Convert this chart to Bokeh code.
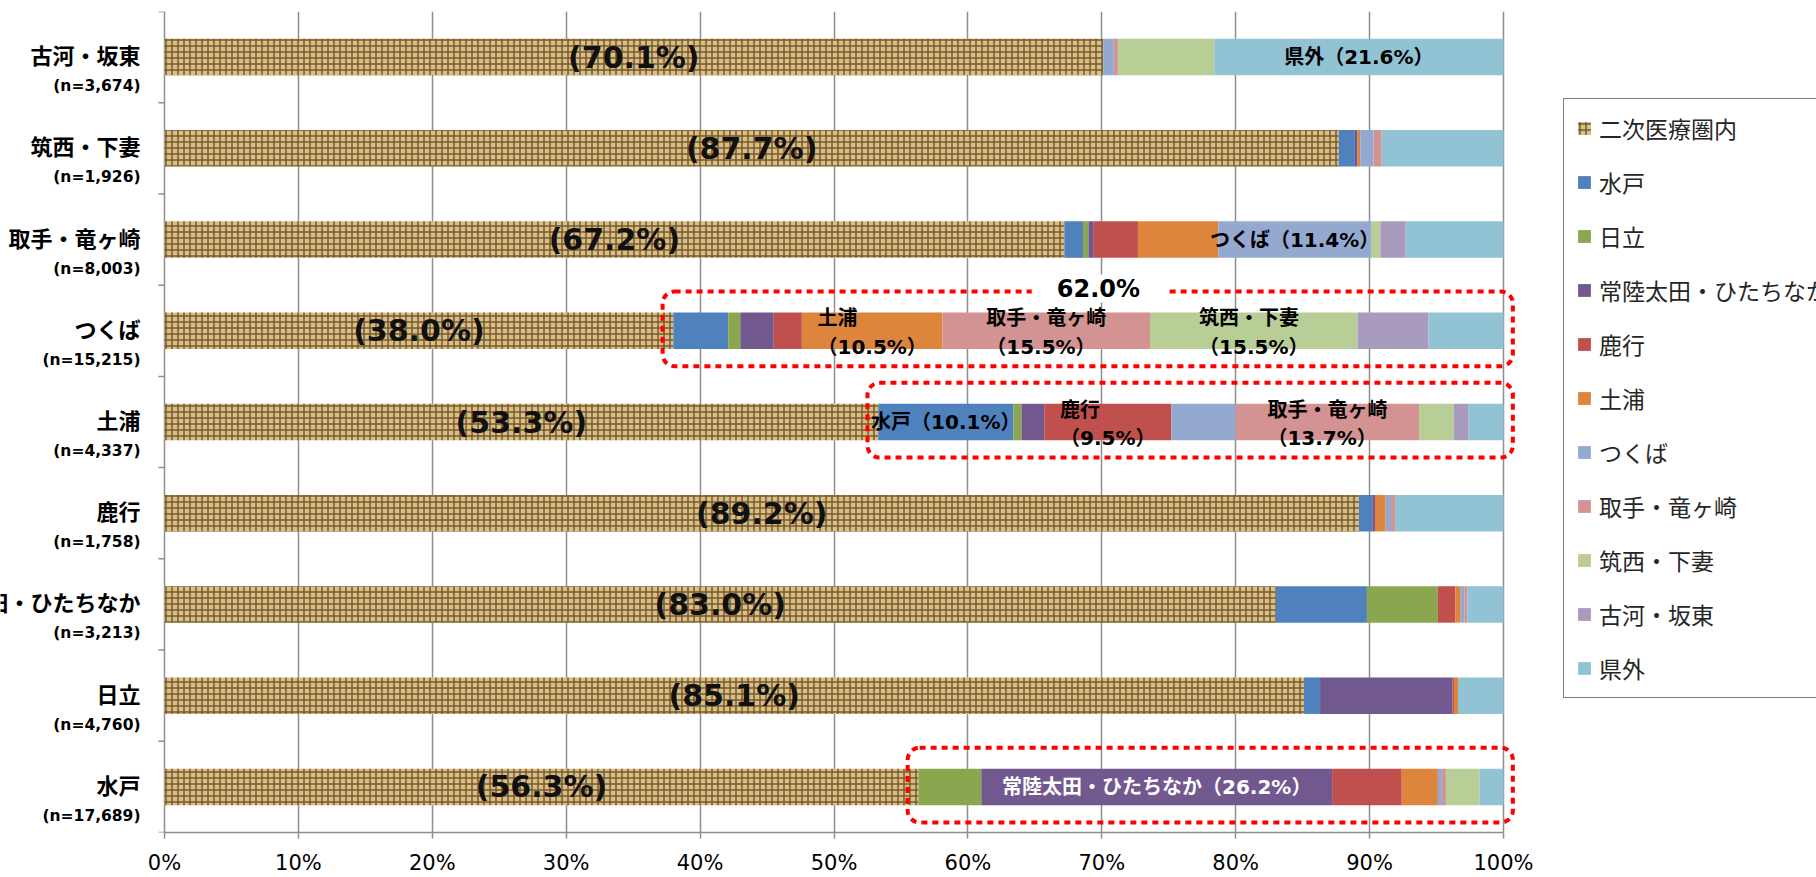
import numpy as np
from bokeh.plotting import figure
from bokeh.models import (ColumnDataSource, Range1d, FixedTicker, LabelSet, Label,
                          BoxAnnotation, Legend, LegendItem)
from bokeh.core.properties import value
from bokeh.embed import file_html
from bokeh.resources import INLINE

# ---------------- data ----------------
categories = ["古河・坂東", "筑西・下妻", "取手・竜ヶ崎", "つくば", "土浦",
              "鹿行", "常陸太田・ひたちなか", "日立", "水戸"]
n_counts = ["3,674", "1,926", "8,003", "15,215", "4,337",
            "1,758", "3,213", "4,760", "17,689"]
series = ["二次医療圏内", "水戸", "日立", "常陸太田・ひたちなか", "鹿行", "土浦",
          "つくば", "取手・竜ヶ崎", "筑西・下妻", "古河・坂東", "県外"]

within     = [70.1, 87.7, 67.2, 38.0, 53.3, 89.2, 83.0, 85.1, 56.3]
mito       = [0.0, 1.2, 1.4, 4.1, 10.1, 1.0, 6.8, 1.2, 0.0]
hitachi    = [0.0, 0.0, 0.4, 0.9, 0.6, 0.0, 5.3, 0.0, 4.7]
hitachiota = [0.0, 0.2, 0.4, 2.5, 1.7, 0.2, 0.0, 9.9, 26.2]
rokko      = [0.0, 0.0, 3.3, 2.1, 9.5, 0.0, 1.3, 0.1, 5.2]
tsuchiura  = [0.0, 0.2, 6.0, 10.5, 0.0, 0.8, 0.4, 0.3, 2.7]
tsukuba    = [0.8, 1.0, 11.4, 0.0, 4.8, 0.4, 0.3, 0.0, 0.3]
toride     = [0.3, 0.6, 0.0, 15.5, 13.7, 0.3, 0.2, 0.0, 0.3]
chikusei   = [7.2, 0.0, 0.7, 15.5, 2.6, 0.0, 0.0, 0.0, 2.5]
koga       = [0.0, 0.0, 1.9, 5.3, 1.1, 0.0, 0.0, 0.0, 0.0]
outside    = [21.6, 9.1, 7.3, 5.6, 2.6, 8.1, 2.7, 3.4, 1.8]

x_ticks = [0, 10, 20, 30, 40, 50, 60, 70, 80, 90, 100]
x_tick_labels = ["0%", "10%", "20%", "30%", "40%", "50%", "60%", "70%", "80%", "90%", "100%"]

# callouts: (row, segment series, two-line layout, white text)
callouts = [
    ("古河・坂東", "県外", False, False),
    ("取手・竜ヶ崎", "つくば", False, False),
    ("つくば", "土浦", True, False),
    ("つくば", "取手・竜ヶ崎", True, False),
    ("つくば", "筑西・下妻", True, False),
    ("土浦", "水戸", False, False),
    ("土浦", "鹿行", True, False),
    ("土浦", "取手・竜ヶ崎", True, False),
    ("水戸", "常陸太田・ひたちなか", False, True),
]
highlight_rows = ["つくば", "土浦", "水戸"]
gap_label_row = "つくば"

# ---------------- styles ----------------
colors = ["#D9BF87", "#4F81BD", "#8AA64F", "#71588F", "#C0504D", "#DD843D",
          "#94A9D0", "#D29392", "#B9CD96", "#A99BBD", "#92C3D4"]
hatches = ["+"] + [" "] * 10
GRID = "#8E8E8E"

series_values = [within, mito, hitachi, hitachiota, rokko, tsuchiura,
                 tsukuba, toride, chikusei, koga, outside]
n_cat = len(categories)
y_pos = [n_cat - 0.5 - i for i in range(n_cat)]
keys = [f"s{i}" for i in range(len(series))]
data = {"y": y_pos}
for k, vals in zip(keys, series_values):
    data[k] = vals
src = ColumnDataSource(data)

W, H = 1816, 877
ZERO_PX = 164          # screen x of 0%
TOP, BOTTOM = 11, 45
px_per_pct = 13.39
x_start = -ZERO_PX / px_per_pct
x_end = (W - ZERO_PX) / px_per_pct

p = figure(width=W, height=H, output_backend="svg", toolbar_location=None,
           x_range=Range1d(x_start, x_end), y_range=Range1d(0, n_cat),
           y_axis_location=None,
           min_border_left=0, min_border_right=0,
           min_border_top=TOP, min_border_bottom=BOTTOM)
p.outline_line_color = None
p.background_fill_color = "white"
p.border_fill_color = "white"
p.ygrid.visible = False

renderers = p.hbar_stack(keys, y="y", height=0.4, source=src,
                         fill_color=colors, line_color=None,
                         hatch_pattern=hatches, hatch_color="#5E4015",
                         hatch_alpha=0.8, hatch_scale=6, hatch_weight=1.5)

# x axis
p.xaxis.ticker = FixedTicker(ticks=x_ticks)
p.xaxis.major_label_overrides = dict(zip(x_ticks, x_tick_labels))
p.xaxis.bounds = (0, 100)
p.xaxis.major_label_text_font = "DejaVu Sans"
p.xaxis.major_label_text_font_size = "21px"
p.xaxis.major_label_text_color = "black"
p.xaxis.major_label_standoff = 12
p.xaxis.major_tick_out = 6
p.xaxis.major_tick_in = 0
p.xaxis.minor_tick_out = 0
p.xaxis.axis_line_color = GRID
p.xaxis.axis_line_width = 1.5
p.xaxis.major_tick_line_color = GRID
p.xaxis.major_tick_line_width = 1.5

p.xgrid.ticker = FixedTicker(ticks=x_ticks)
p.xgrid.grid_line_color = GRID
p.xgrid.grid_line_width = 1.5

# category-boundary tick marks just left of the 0% line
bounds_y = list(range(n_cat + 1))
p.segment(x0=[-6 / px_per_pct] * len(bounds_y), y0=bounds_y,
          x1=[0] * len(bounds_y), y1=bounds_y, line_color=GRID, line_width=1.5)

# highlight boxes
for row in highlight_rows:
    i = categories.index(row)
    p.add_layout(BoxAnnotation(left=within[i] - 0.8, right=100.7,
                               bottom=y_pos[i] - 0.39, top=y_pos[i] + 0.43,
                               fill_alpha=0, fill_color=None,
                               line_color="#FF0000", line_alpha=1.0, line_width=4,
                               line_dash="6 5", border_radius=12))

# category labels
cat_src = ColumnDataSource(dict(x=[0] * n_cat, y=y_pos, name=categories,
                                n=[f"(n={c})" for c in n_counts]))
p.add_layout(LabelSet(x="x", y="y", text="name", source=cat_src, x_offset=-24, y_offset=3,
                      text_align="right", text_baseline="middle",
                      text_font=value("Noto Sans CJK JP"), text_font_size="22px",
                      text_font_style="bold", text_color="black"))
p.add_layout(LabelSet(x="x", y="y", text="n", source=cat_src, x_offset=-24, y_offset=-29,
                      text_align="right", text_baseline="middle",
                      text_font=value("DejaVu Sans"), text_font_size="15.5px",
                      text_font_style="bold", text_color="black"))

# share labels (within-area)
share_src = ColumnDataSource(dict(x=[v / 2 for v in within], y=y_pos,
                                  t=[f"({v:.1f}%)" for v in within]))
p.add_layout(LabelSet(x="x", y="y", text="t", source=share_src,
                      text_align="center", text_baseline="middle",
                      text_font=value("DejaVu Sans"), text_font_size="30px",
                      text_font_style="bold", text_color="#111111"))

# callouts
arr = np.array(series_values)
lefts = np.cumsum(arr, axis=0) - arr
one = dict(x=[], y=[], t=[], c=[])
two = dict(x=[], y=[], t=[], c=[])
for row, ser, two_line, white in callouts:
    i = categories.index(row)
    j = series.index(ser)
    v = arr[j, i]
    sep = "\n" if two_line else ""
    d = two if two_line else one
    d["x"].append(lefts[j, i] + v / 2)
    d["y"].append(y_pos[i])
    d["t"].append(f"{ser}{sep}（{v:.1f}%）")
    d["c"].append("white" if white else "black")
for d, yo in ((one, 0), (two, -2)):
    p.add_layout(LabelSet(x="x", y="y", text="t", text_color="c",
                          source=ColumnDataSource(d), y_offset=yo,
                          text_align="center", text_baseline="middle",
                          text_font=value("DejaVu Sans, Noto Sans CJK JP"),
                          text_font_size="20px", text_font_style="bold",
                          text_line_height=1.2))

# 62.0% label sitting on the box's top edge
gi = categories.index(gap_label_row)
nb = "\u00a0" * 3
p.add_layout(Label(x=(within[gi] + 100) / 2, y=y_pos[gi] + 0.43, y_offset=3, x_offset=10,
                   text=f"{nb}{100 - within[gi]:.1f}%{nb}",
                   text_align="center", text_baseline="middle",
                   text_font="DejaVu Sans", text_font_size="24px",
                   text_font_style="bold", text_color="black",
                   background_fill_color="white", background_fill_alpha=1.0))

# legend
items = [LegendItem(label=s, renderers=[r]) for s, r in zip(series, renderers)]
legend = Legend(items=items, location=(1563, 134), orientation="vertical",
                glyph_width=16, glyph_height=16, label_height=20, spacing=20,
                padding=12, margin=0, label_standoff=7, label_width=260,
                label_text_font="Noto Sans CJK JP", label_text_font_size="23px",
                label_text_color="#262626",
                border_line_color="black", border_line_width=1.5,
                background_fill_color="white", background_fill_alpha=1.0)
p.add_layout(legend)

open("out.html", "w").write(file_html(p, INLINE))
